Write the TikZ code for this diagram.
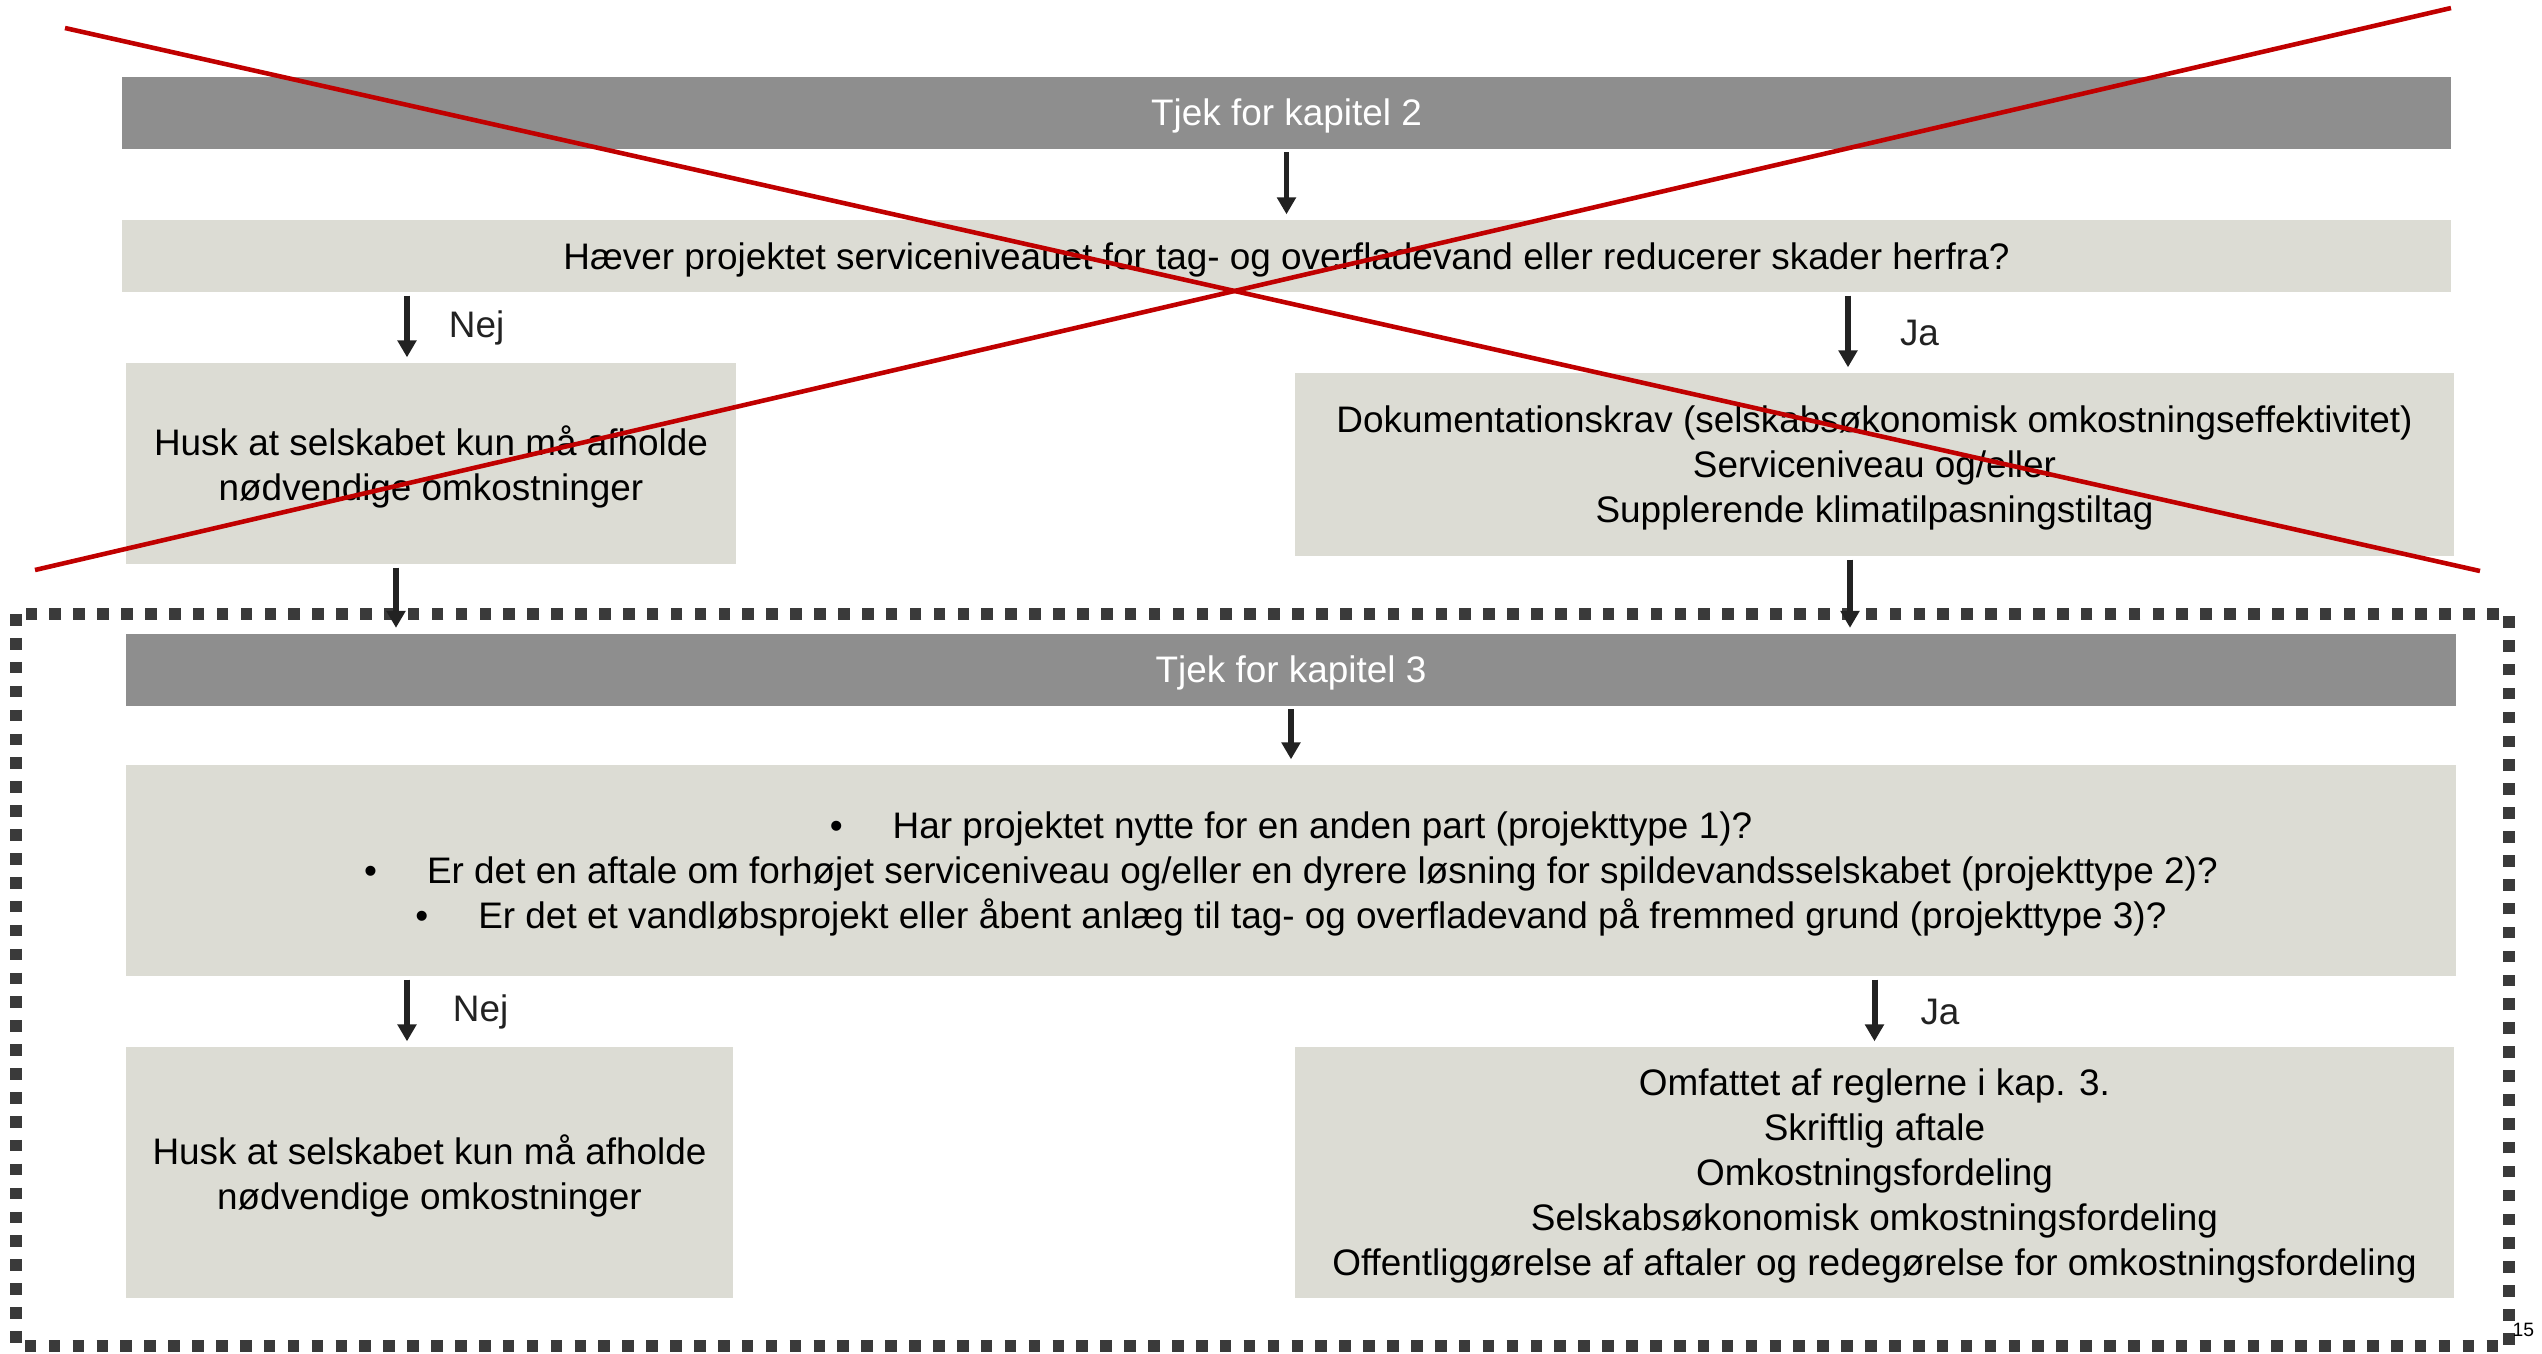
\documentclass[tikz,border=0pt]{standalone}
\usepackage{fontspec}
\setmainfont{Liberation Sans}
\usepackage{tikz}
\usetikzlibrary{arrows.meta, positioning}
\definecolor{hdrgray}{HTML}{8E8E8E}
\definecolor{boxbeige}{HTML}{DCDCD4}
\definecolor{arrowdark}{HTML}{222222}
\definecolor{framedark}{HTML}{3A3A3A}
\definecolor{crossred}{HTML}{C00000}

\begin{document}
\begin{tikzpicture}[
    every node/.style={font=\fontsize{10.5}{12.8}\selectfont},
    hdrbox/.style={rectangle, fill=hdrgray, text=white, minimum height=0.72cm, inner sep=0pt, text depth=0pt},
    askbox/.style={rectangle, fill=boxbeige, align=center, inner sep=0pt, text depth=0pt},
    flowarrow/.style={-{Triangle[width=5.2pt, length=4.8pt]}, color=arrowdark, line width=1.7pt, shorten <=0.3mm, shorten >=0.5mm},
    answerlabel/.style={right=4.3mm, inner sep=0pt},
    crossline/.style={draw=crossred, line width=1.3pt},
]
\useasboundingbox (0,0) rectangle (25.42,-13.53);
% Frame round chapter 3
\draw[framedark, line width=3.3pt, dash pattern=on 3.3pt off 3.5pt] (0.16,-6.14) rectangle (25.09,-13.46);
% Chapter 2
\node[hdrbox, minimum width=23.29cm] (chk2) at (12.865,-1.125) {Tjek for kapitel 2};
\node[askbox, minimum width=23.29cm, minimum height=0.72cm] (ask2) at (12.865,-2.56) {Hæver projektet serviceniveauet for tag- og overfladevand eller reducerer skader herfra?};
\node[askbox, minimum width=6.10cm, minimum height=2.01cm] (keep2) at (4.31,-4.635) {Husk at selskabet kun må afholde\\nødvendige omkostninger};
\node[askbox, minimum width=11.59cm, minimum height=1.83cm] (docs2) at (18.745,-4.645) {Dokumentationskrav (selskabsøkonomisk omkostningseffektivitet)\\Serviceniveau og/eller\\Supplerende klimatilpasningstiltag};
% Chapter 3
\node[hdrbox, minimum width=23.30cm] (chk3) at (12.91,-6.695) {Tjek for kapitel 3};
\node[askbox, minimum width=23.30cm, minimum height=2.11cm] (ask3) at (12.91,-8.705) {\textbullet\hspace{0.5cm}Har projektet nytte for en anden part (projekttype 1)?\\
\textbullet\hspace{0.5cm}Er det en aftale om forhøjet serviceniveau og/eller en dyrere løsning for spildevandsselskabet (projekttype 2)?\\
\textbullet\hspace{0.5cm}Er det et vandløbsprojekt eller åbent anlæg til tag- og overfladevand på fremmed grund (projekttype 3)?};
\node[askbox, minimum width=6.07cm, minimum height=2.51cm] (keep3) at (4.295,-11.725) {Husk at selskabet kun må afholde\\nødvendige omkostninger};
\node[askbox, minimum width=11.59cm, minimum height=2.51cm] (rules3) at (18.745,-11.725) {Omfattet af reglerne i kap. 3.\\Skriftlig aftale\\Omkostningsfordeling\\Selskabsøkonomisk omkostningsfordeling\\Offentliggørelse af aftaler og redegørelse for omkostningsfordeling};
% Arrow columns
\coordinate (nej2) at ([xshift=-2.4mm]keep2.north);
\coordinate (ja2) at ([xshift=-2.65mm]docs2.north);
\coordinate (nejout) at ([xshift=-3.5mm]keep2.south);
\coordinate (jaout) at ([xshift=-2.45mm]docs2.south);
\coordinate (nej3) at ([xshift=-2.25mm]keep3.north);
% Arrows
\draw[flowarrow] (chk2) -- (ask2);
\draw[flowarrow] (nej2 |- ask2.south) -- (nej2) node[answerlabel, midway, right=3.9mm] {Nej};
\draw[flowarrow] (ja2 |- ask2.south) -- (ja2) node[answerlabel, midway, right=4.9mm] {Ja};
\draw[flowarrow] (nejout) -- (nejout |- chk3.north);
\draw[flowarrow] (jaout) -- (jaout |- chk3.north);
\draw[flowarrow] (chk3) -- (ask3);
\draw[flowarrow] (nej3 |- ask3.south) -- (nej3) node[answerlabel, midway] {Nej};
\draw[flowarrow] (ask3.south -| rules3.north) -- (rules3.north) node[answerlabel, midway] {Ja};
% Page number
\node[font=\fontsize{5.5}{6}\selectfont, anchor=west, inner sep=0pt] (pageno) at (25.12,-13.30) {15};
% Cross
\draw[crossline] (0.65,-0.28) -- (24.80,-5.71);
\draw[crossline] (0.35,-5.70) -- (24.51,-0.08);
\end{tikzpicture}
\end{document}
